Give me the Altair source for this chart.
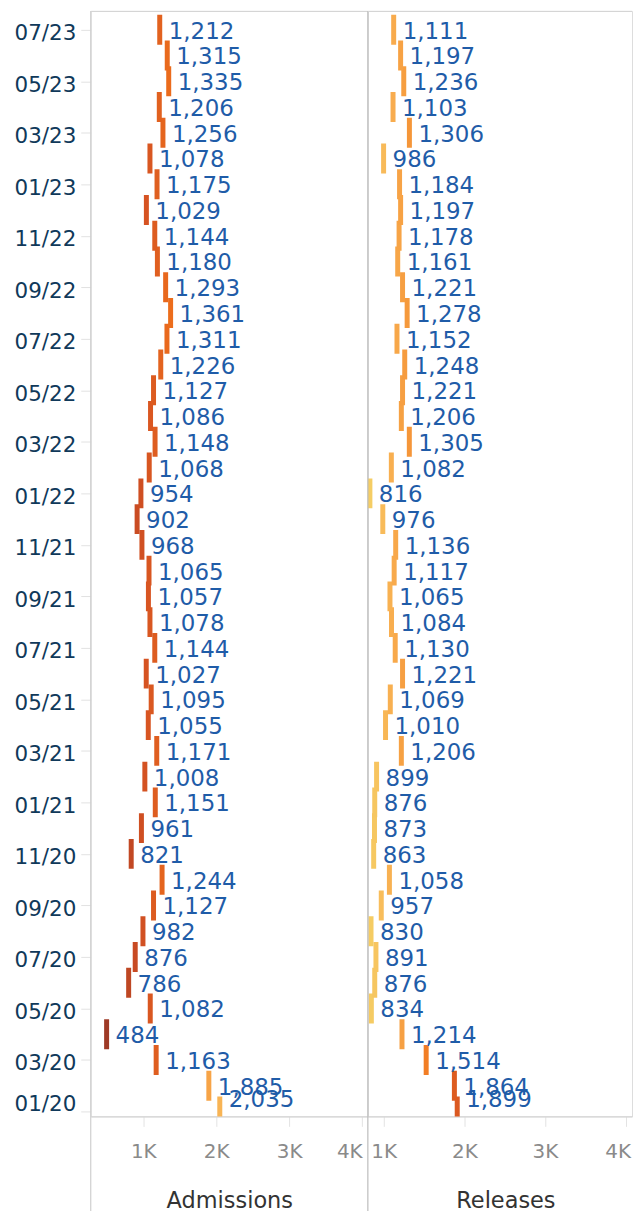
import json
import altair as alt
import pandas as pd

months = [
    "01/20", "02/20", "03/20", "04/20", "05/20", "06/20", "07/20", "08/20", "09/20", "10/20", "11/20", "12/20",
    "01/21", "02/21", "03/21", "04/21", "05/21", "06/21", "07/21", "08/21", "09/21", "10/21", "11/21", "12/21",
    "01/22", "02/22", "03/22", "04/22", "05/22", "06/22", "07/22", "08/22", "09/22", "10/22", "11/22", "12/22",
    "01/23", "02/23", "03/23", "04/23", "05/23", "06/23", "07/23",
]
admissions = [2035, 1885, 1163, 484, 1082, 786, 876, 982, 1127, 1244, 821, 961,
              1151, 1008, 1171, 1055, 1095, 1027, 1144, 1078, 1057, 1065, 968, 902,
              954, 1068, 1148, 1086, 1127, 1226, 1311, 1361, 1293, 1180, 1144, 1029,
              1175, 1078, 1256, 1206, 1335, 1315, 1212]
releases = [1899, 1864, 1514, 1214, 834, 876, 891, 830, 957, 1058, 863, 873,
            876, 899, 1206, 1010, 1069, 1221, 1130, 1084, 1065, 1117, 1136, 976,
            816, 1082, 1305, 1206, 1221, 1248, 1152, 1278, 1221, 1161, 1178, 1197,
            1184, 986, 1306, 1103, 1236, 1197, 1111]
x_ticks = [1000, 2000, 3000, 4000]

df = pd.DataFrame({
    "idx": list(range(len(months))),
    "month": months,
    "Admissions": admissions,
    "Releases": releases,
})
one = pd.DataFrame({"z": [0]})

FONT = "DejaVu Sans"
H = 1109
Y_DOMAIN = [-0.19, 42.73]

label_expr = "datum.value % 2 == 0 ? " + json.dumps(months) + "[datum.value] : ''"


def panel(field, xdom, width, flush, label_offset, color_scale, show_y, title_x, divider_color):
    if show_y:
        yaxis = alt.Axis(
            values=list(range(len(months))), labelExpr=label_expr, title=None,
            grid=False, domain=False, tickSize=10, tickColor="#e2e2e2",
            labelColor="#10395a", labelFontSize=21.5, labelFont=FONT, labelPadding=5,
            labelOverlap=False, minExtent=82, maxExtent=82,
            labelOffset={"condition": {"test": "datum.value === 0", "value": -7}, "value": 4},
        )
    else:
        yaxis = None
    x = alt.X(
        f"{field}:Q",
        scale=alt.Scale(domain=xdom, nice=False, zero=False),
        axis=alt.Axis(
            values=x_ticks, labelExpr="datum.value / 1000 + 'K'", title=field,
            grid=False, tickSize=10, tickColor="#e3e3e3", domainColor="#d0d0d0",
            labelColor="#8a8a8a", labelFontSize=20, labelFont=FONT, labelPadding=15,
            labelFlush=flush, labelOffset=label_offset,
            titleFontSize=22.5, titleFont=FONT, titleColor="#333333",
            titleFontWeight="normal", titleX=title_x, titleY=91,
            titleBaseline="alphabetic", titleAlign="center",
        ),
    )
    y = alt.Y("idx:Q", scale=alt.Scale(domain=Y_DOMAIN, nice=False, zero=False), axis=yaxis)
    base = alt.Chart(df)
    ticks = base.mark_tick(orient="vertical", size=30, thickness=5, clip=True,
                           xOffset=1, opacity=1).encode(
        x=x, y=y,
        color=alt.Color(f"{field}:Q", scale=color_scale, legend=None),
    )
    labels = base.mark_text(
        align="left", baseline="middle", dx=10,
        dy=alt.expr("datum.idx === 0 ? -11 : 2"),
        fontSize=23, font=FONT, color="#1f5ca8",
    ).encode(
        x=alt.X(f"{field}:Q"), y=alt.Y("idx:Q"),
        text=alt.Text(f"{field}:Q", format=","),
    )
    vline = alt.Chart(one).mark_rule(color=divider_color, strokeWidth=1.2).encode(
        x=alt.value(0), y=alt.value(0), y2=alt.value(1204)
    )
    topline = alt.Chart(one).mark_rule(color="#d4d4d4", strokeWidth=1).encode(
        x=alt.value(0), x2=alt.value(width), y=alt.value(0.5)
    )
    return alt.layer(ticks, labels, vline, topline).properties(width=width, height=H)


adm_scale = alt.Scale(
    scheme=alt.SchemeParams(name="goldorange", extent=[0.15, 1.0]),
    domain=[min(admissions), max(admissions)], reverse=True,
)
rel_scale = alt.Scale(
    scheme=alt.SchemeParams(name="goldorange", extent=[0.02, 0.66]),
    domain=[min(releases), max(releases)],
)

left = panel("Admissions", [280, 4078], 278, 10, 0, adm_scale, True, 139, "#cfcfcf")
right = panel(
    "Releases", [803, 4079], 265, False,
    {"condition": {"test": "datum.value === 4000", "value": -8}, "value": 0},
    rel_scale, False, 138, "#bdbdbd",
)

chart = (
    alt.hconcat(left, right, spacing=0, bounds="flush")
    .resolve_scale(x="independent", y="shared", color="independent")
    .properties(padding={"top": -1, "left": 0, "right": 0, "bottom": -3})
    .configure_view(stroke=None)
    .configure(font=FONT)
)

chart.save("out.html", embed_options={"renderer": "svg", "actions": False})
